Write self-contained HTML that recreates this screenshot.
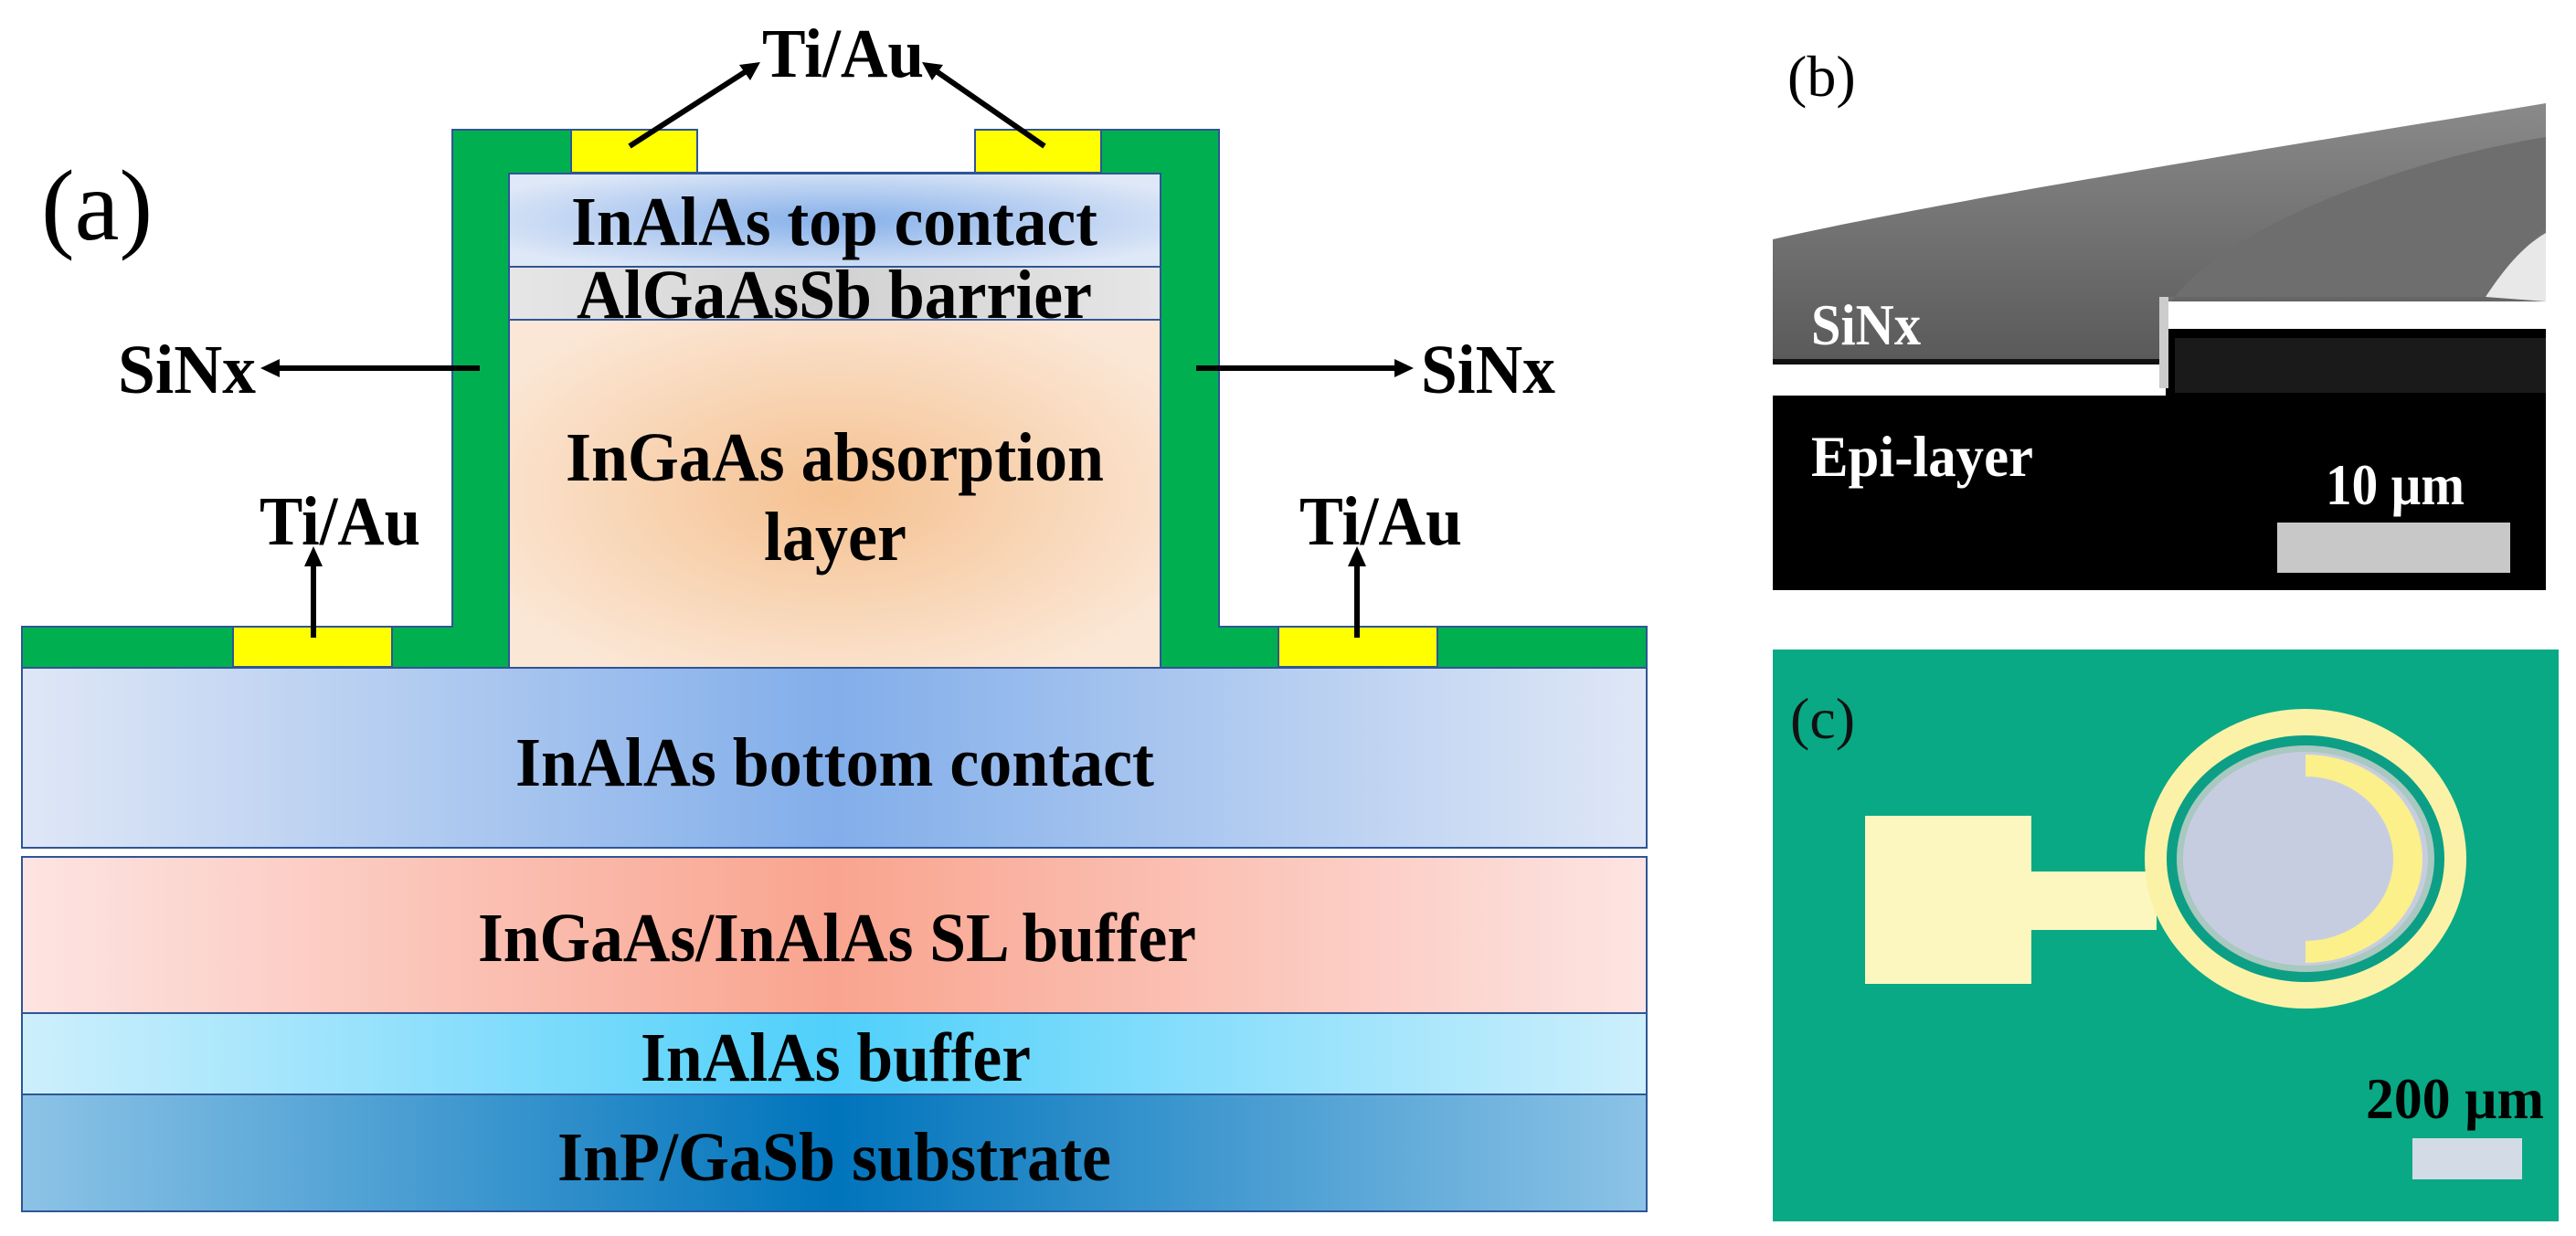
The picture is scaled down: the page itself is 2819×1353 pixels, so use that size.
<!DOCTYPE html>
<html><head><meta charset="utf-8"><style>
html,body{margin:0;padding:0;background:#fff;}
svg{display:block;}
text{font-family:"Liberation Serif",serif;font-weight:bold;}
</style></head><body>
<svg width="2819" height="1353" viewBox="0 0 2819 1353" xmlns="http://www.w3.org/2000/svg">
<defs>
<radialGradient id="gTop" cx="0.5" cy="0.5" r="0.6"><stop offset="0" stop-color="#86b0ea"/><stop offset="1" stop-color="#dfe8f7"/></radialGradient>
<linearGradient id="gBar" x1="0" x2="1"><stop offset="0" stop-color="#e6e6e6"/><stop offset="0.5" stop-color="#d2d2d2"/><stop offset="1" stop-color="#e6e6e6"/></linearGradient>
<radialGradient id="gAbs" cx="0.5" cy="0.5" r="0.6"><stop offset="0" stop-color="#f5c190"/><stop offset="1" stop-color="#fbe7d6"/></radialGradient>
<linearGradient id="gBot" x1="0" x2="1"><stop offset="0" stop-color="#dfe7f6"/><stop offset="0.5" stop-color="#82aeea"/><stop offset="1" stop-color="#dfe7f6"/></linearGradient>
<linearGradient id="gSL" x1="0" x2="1"><stop offset="0" stop-color="#fde4e2"/><stop offset="0.5" stop-color="#f9a48f"/><stop offset="1" stop-color="#fde4e2"/></linearGradient>
<linearGradient id="gBuf" x1="0" x2="1"><stop offset="0" stop-color="#cdeffc"/><stop offset="0.5" stop-color="#4fd0fb"/><stop offset="1" stop-color="#cdeffc"/></linearGradient>
<linearGradient id="gSub" x1="0" x2="1"><stop offset="0" stop-color="#8cc3e6"/><stop offset="0.5" stop-color="#0074bc"/><stop offset="1" stop-color="#8cc3e6"/></linearGradient>
<linearGradient id="gSem" x1="0" x2="0" y1="0" y2="1"><stop offset="0" stop-color="#8a8a8a"/><stop offset="1" stop-color="#5a5a5a"/></linearGradient>
</defs>

<text x="45" y="262" font-size="110" style="font-weight:normal">(a)</text>

<rect x="24" y="731" width="1778" height="197" fill="url(#gBot)" stroke="#2f5597" stroke-width="2"/>
<rect x="24" y="938" width="1778" height="171" fill="url(#gSL)" stroke="#2f5597" stroke-width="2"/>
<rect x="24" y="1109" width="1778" height="89" fill="url(#gBuf)" stroke="#2f5597" stroke-width="2"/>
<rect x="24" y="1198" width="1778" height="128" fill="url(#gSub)" stroke="#2f5597" stroke-width="2"/>

<path d="M24,686 H495 V142 H1334 V686 H1802 V731 H24 Z" fill="#00b050" stroke="#2f5597" stroke-width="2"/>
<rect x="557" y="190" width="713" height="102" fill="url(#gTop)" stroke="#2f5597" stroke-width="2"/>
<rect x="557" y="292" width="713" height="58" fill="url(#gBar)" stroke="#2f5597" stroke-width="2"/>
<rect x="557" y="350" width="713" height="381" fill="url(#gAbs)" stroke="#2f5597" stroke-width="2"/>
<rect x="763" y="140" width="304" height="49" fill="#fff"/>
<line x1="763" y1="189" x2="1067" y2="189" stroke="#2f5597" stroke-width="2"/>
<rect x="625" y="142" width="138" height="47" fill="#ffff00" stroke="#2f5597" stroke-width="2"/>
<rect x="1067" y="142" width="138" height="47" fill="#ffff00" stroke="#2f5597" stroke-width="2"/>
<rect x="255" y="686" width="174" height="44" fill="#ffff00" stroke="#2f5597" stroke-width="2"/>
<rect x="1399" y="686" width="174" height="44" fill="#ffff00" stroke="#2f5597" stroke-width="2"/>

<g stroke="#000" stroke-width="6" fill="none">
<line x1="689" y1="160" x2="815" y2="79"/>
<line x1="1143" y1="160" x2="1026" y2="79"/>
<line x1="525" y1="403" x2="305" y2="403"/>
<line x1="1309" y1="403" x2="1527" y2="403"/>
<line x1="343" y1="698" x2="343" y2="618"/>
<line x1="1485" y1="698" x2="1485" y2="618"/>
</g>
<g fill="#000">
<polygon points="832,68 821,88 809,71"/>
<polygon points="1009,68 1032,71 1020,88"/>
<polygon points="285,403 306,393 306,413"/>
<polygon points="1547,403 1526,393 1526,413"/>
<polygon points="343,598 333,620 353,620"/>
<polygon points="1485,598 1475,620 1495,620"/>
</g>

<g font-size="76" fill="#000">
<text x="834" y="84" textLength="177" lengthAdjust="spacingAndGlyphs">Ti/Au</text>
<text x="129" y="430" textLength="151" lengthAdjust="spacingAndGlyphs">SiNx</text>
<text x="1555" y="430" textLength="147" lengthAdjust="spacingAndGlyphs">SiNx</text>
<text x="284" y="596" textLength="176" lengthAdjust="spacingAndGlyphs">Ti/Au</text>
<text x="1422" y="596" textLength="178" lengthAdjust="spacingAndGlyphs">Ti/Au</text>
<text x="625" y="268" textLength="576" lengthAdjust="spacingAndGlyphs">InAlAs top contact</text>
<text x="631" y="348" textLength="564" lengthAdjust="spacingAndGlyphs">AlGaAsSb barrier</text>
<text x="619" y="526" textLength="589" lengthAdjust="spacingAndGlyphs">InGaAs absorption</text>
<text x="836" y="613" textLength="156" lengthAdjust="spacingAndGlyphs">layer</text>
<text x="564" y="860" textLength="699" lengthAdjust="spacingAndGlyphs">InAlAs bottom contact</text>
<text x="523" y="1052" textLength="786" lengthAdjust="spacingAndGlyphs">InGaAs/InAlAs SL buffer</text>
<text x="701" y="1183" textLength="427" lengthAdjust="spacingAndGlyphs">InAlAs buffer</text>
<text x="610" y="1292" textLength="606" lengthAdjust="spacingAndGlyphs">InP/GaSb substrate</text>
</g>

<text x="1956" y="105" font-size="64" style="font-weight:normal">(b)</text>
<rect x="1940" y="360" width="846" height="286" fill="#000"/>
<path d="M1940,262 C2150,215 2500,160 2786,113 L2786,360 L2363,360 L2363,393 L1940,393 Z" fill="url(#gSem)"/>
<path d="M2363,355 C2390,270 2600,180 2786,150 L2786,250 C2760,270 2740,300 2720,325 L2363,325 Z" fill="#6e6e6e"/>
<path d="M2720,325 C2740,295 2760,270 2786,255 L2786,330 Z" fill="#e8e8e8"/>
<rect x="1940" y="393" width="423" height="6" fill="#111"/>
<rect x="1940" y="399" width="430" height="34" fill="#fff"/>
<rect x="2369" y="330" width="417" height="30" fill="#fff"/>
<rect x="2363" y="325" width="10" height="100" fill="#ccc"/>
<path d="M2380,370 L2786,370 L2786,430 L2380,430 Z" fill="#1a1a1a"/>
<text x="1982" y="377" font-size="64" fill="#fff" textLength="120" lengthAdjust="spacingAndGlyphs">SiNx</text>
<text x="1982" y="521" font-size="64" fill="#fff" textLength="243" lengthAdjust="spacingAndGlyphs">Epi-layer</text>
<text x="2545" y="552" font-size="64" fill="#fff" textLength="152" lengthAdjust="spacingAndGlyphs">10 µm</text>
<rect x="2492" y="572" width="255" height="55" fill="#c8c8c8"/>

<rect x="1940" y="711" width="860" height="626" fill="#09a985"/>
<text x="1959" y="808" font-size="64" style="font-weight:normal" fill="#111">(c)</text>
<rect x="2041" y="893" width="182" height="184" fill="#fbf7bf"/>
<rect x="2220" y="954" width="140" height="64" fill="#fbf7bf"/>
<ellipse cx="2523" cy="940" rx="176" ry="164" fill="#fbf2a8"/>
<ellipse cx="2523" cy="940" rx="152" ry="135" fill="#0c9f86"/>
<ellipse cx="2523" cy="940" rx="141" ry="124" fill="#a8c8c0"/>
<ellipse cx="2523" cy="940" rx="134" ry="117" fill="#c7cde0"/>
<path d="M2523,826 A128,114 0 0 1 2523,1054 L2523,1030 A96,90 0 0 0 2523,850 Z" fill="#fbf08a"/>
<text x="2589" y="1224" font-size="64" fill="#000" textLength="195" lengthAdjust="spacingAndGlyphs">200 µm</text>
<rect x="2640" y="1246" width="120" height="45" fill="#d3dbe6"/>
</svg>
</body></html>
